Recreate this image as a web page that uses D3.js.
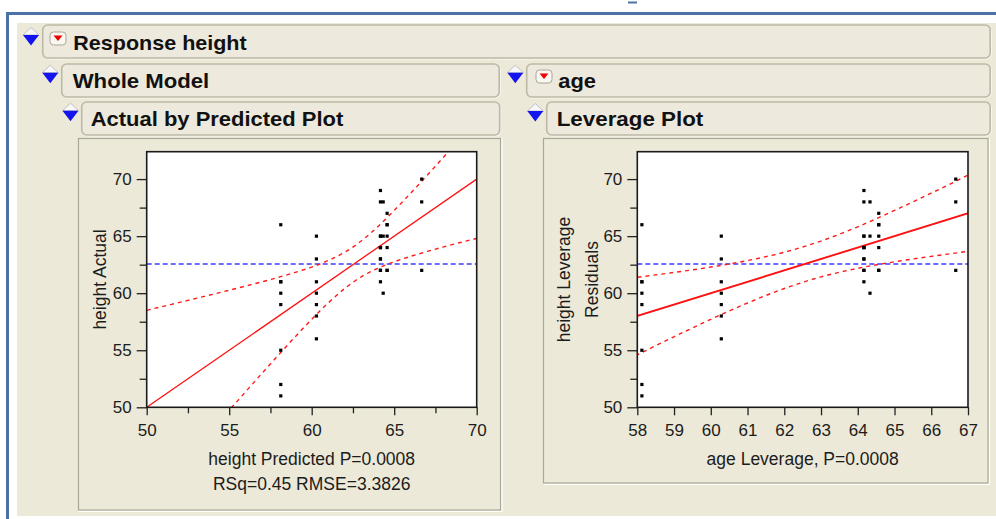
<!DOCTYPE html>
<html><head><meta charset="utf-8">
<script src="https://cdn.jsdelivr.net/npm/d3@7"></script>
<style>
html,body{margin:0;padding:0;background:#fff;}
svg{display:block;}
</style></head><body>
<svg id="c" width="996" height="519"></svg>
<script>
// ---------------- data ----------------
const ageGroups = ["12", "13", "14", "15", "16", "17"];
const groupPredicted = [58.125, 60.286, 64.167, 64.571, 64.333, 66.667];
const heights12 = [59, 61, 55, 66, 52, 60, 61, 51];
const heights13 = [60, 61, 56, 65, 63, 58, 59];
const heights14 = [61, 62, 65, 63, 62, 63, 64, 65, 64, 68, 64, 69];
const heights15 = [62, 66, 62, 66, 64, 67, 65];
const heights16 = [68, 60, 65];
const heights17 = [62, 68, 70];
const heightMean = 62.55;
// confidence curves
const bandX =     [50, 51, 52, 53, 54, 55, 56, 57, 58, 59, 60, 61, 62, 63, 64, 65, 66, 67, 68, 69, 70];
const bandUpper = [58.50, 58.85, 59.19, 59.55, 59.90, 60.26, 60.63, 61.00, 61.40, 61.82, 62.29, 62.86, 63.59, 64.57, 65.82, 67.25, 68.77, 70.34, 71.94, 73.56, 75.20];
const bandLower = [41.50, 43.15, 44.81, 46.45, 48.10, 49.74, 51.37, 53.00, 54.60, 56.18, 57.71, 59.14, 60.41, 61.43, 62.18, 62.75, 63.23, 63.66, 64.06, 64.44, 64.80];
const fitX = [50, 70];
const yMajorTicks = [50, 55, 60, 65, 70];
const yMinorTicks = [52.5, 57.5, 62.5, 67.5];
const leftXMajorTicks = [50, 55, 60, 65, 70];
const leftXMinorTicks = [52.5, 57.5, 62.5, 67.5];
const rightXMajorTicks = [58, 59, 60, 61, 62, 63, 64, 65, 66, 67];
const leftXTitle = "height Predicted P=0.0008";
const leftXSub = "RSq=0.45 RMSE=3.3826";
const leftYTitle = "height Actual";
const rightXTitle = "age Leverage, P=0.0008";
const rightYTitle = ["height Leverage", "Residuals"];

const heightGroups = [heights12, heights13, heights14, heights15, heights16, heights17];
const points = heightGroups.flatMap((hs, i) => hs.map(h => ({age: ageGroups[i], x: groupPredicted[i], y: h})));

// ---------------- page chrome ----------------
const svg = d3.select("#c");
const FONT = "'Liberation Sans', Arial, sans-serif";
const BEIGE = "#ece9d8";

svg.append("rect").attr("width", 996).attr("height", 519).attr("fill", "#fff");
svg.append("rect").attr("x", 17).attr("y", 23).attr("width", 979).attr("height", 493).attr("fill", BEIGE);
svg.append("line").attr("x1", 6).attr("x2", 996).attr("y1", 13.5).attr("y2", 13.5).attr("stroke", "#4a72a6").attr("stroke-width", 3);
svg.append("line").attr("x1", 7.5).attr("x2", 7.5).attr("y1", 12).attr("y2", 519).attr("stroke", "#4a72a6").attr("stroke-width", 3);
svg.append("line").attr("x1", 628).attr("x2", 637).attr("y1", 2.5).attr("y2", 2.5).attr("stroke", "#4a72a6").attr("stroke-width", 2);

function headerBox(x, y, w, h) {
  svg.append("rect").attr("x", x + 1).attr("y", y + 1).attr("width", w).attr("height", h).attr("rx", 5)
    .attr("fill", "none").attr("stroke", "#fbfaf6").attr("stroke-width", 1);
  svg.append("rect").attr("x", x).attr("y", y).attr("width", w).attr("height", h).attr("rx", 5)
    .attr("fill", "#ede9dc").attr("stroke", "#bdb9a7").attr("stroke-width", 1.6);
}
function headerText(x, baseline, len, label) {
  svg.append("text").attr("x", x).attr("y", baseline).attr("font-family", FONT)
    .attr("font-weight", "bold").attr("font-size", 21).attr("fill", "#111")
    .attr("textLength", len).attr("lengthAdjust", "spacingAndGlyphs").text(label);
}
function disclosure(cx, split) {
  svg.append("path").attr("d", `M${cx - 8},${split} L${cx + 8},${split} L${cx},${split - 7.5} Z`)
    .attr("fill", "#f7f7f7").attr("stroke", "#b4b4bc").attr("stroke-width", 0.8);
  svg.append("path").attr("d", `M${cx - 8},${split} L${cx + 8},${split} L${cx},${split + 10.5} Z`)
    .attr("fill", "#1414ee");
}
function menuIcon(x, y) {
  svg.append("rect").attr("x", x).attr("y", y).attr("width", 16).attr("height", 13).attr("rx", 3.5)
    .attr("fill", "#f8f7f2").attr("stroke", "#aaa696").attr("stroke-width", 1);
  svg.append("path").attr("d", `M${x + 3.5},${y + 3.5} L${x + 12.5},${y + 3.5} L${x + 8},${y + 9} Z`).attr("fill", "#ee0000");
}

headerBox(42.7, 25, 947.5, 33);
disclosure(31, 35);
menuIcon(50, 32);
headerText(73.3, 49.5, 173.4, "Response height");

headerBox(61.7, 64, 437.5, 33);
disclosure(50.3, 72.7);
headerText(72.7, 87.5, 136.6, "Whole Model");

headerBox(526.7, 64, 463.5, 33);
disclosure(515.3, 72.7);
menuIcon(536, 70);
headerText(558.3, 87.5, 37.7, "age");

headerBox(81.7, 102, 418, 33);
disclosure(70.5, 110.7);
headerText(90.7, 125.5, 252.6, "Actual by Predicted Plot");

headerBox(546.7, 102, 443.5, 33);
disclosure(535.3, 111);
headerText(556.7, 125.5, 146.6, "Leverage Plot");

function panel(x0, y0, x1, y1) {
  svg.append("path").attr("d", `M${x1 + 1.5},${y0} V${y1 + 1.5} H${x0}`).attr("fill", "none").attr("stroke", "#fff").attr("stroke-width", 1.2);
  svg.append("rect").attr("x", x0).attr("y", y0).attr("width", x1 - x0).attr("height", y1 - y0)
    .attr("fill", "none").attr("stroke", "#aca899").attr("stroke-width", 1.2);
}
panel(78.5, 138.5, 500.5, 510);
panel(543.5, 138.5, 988, 483);

// ---------------- plots ----------------
function drawPlot(opt) {
  const {x0, x1, y0, y1, xDomain, xMajor, xMinor, id} = opt;
  const x = d3.scaleLinear().domain(xDomain).range([x0, x1]);
  const y = d3.scaleLinear().domain([50, 72.4]).range([y1, y0]);
  const g = svg.append("g");
  g.append("clipPath").attr("id", id).append("rect").attr("x", x0).attr("y", y0).attr("width", x1 - x0).attr("height", y1 - y0);
  g.append("rect").attr("x", x0).attr("y", y0).attr("width", x1 - x0).attr("height", y1 - y0).attr("fill", "#fff");

  const styleAxis = s => {
    s.select(".domain").remove();
    s.attr("font-family", FONT).attr("font-size", 17);
    s.selectAll("line").attr("stroke", "#222").attr("stroke-width", 1.3);
    s.selectAll("text").attr("fill", "#1c1c1c");
  };
  g.append("g").attr("transform", `translate(${x0},0)`)
    .call(d3.axisLeft(y).tickValues(yMajorTicks).tickSize(10).tickPadding(5).tickFormat(d3.format("d"))).call(styleAxis);
  g.append("g").attr("transform", `translate(${x0},0)`)
    .call(d3.axisLeft(y).tickValues(yMinorTicks).tickSize(7).tickFormat("")).call(styleAxis);
  g.append("g").attr("transform", `translate(0,${y1})`)
    .call(d3.axisBottom(x).tickValues(xMajor).tickSize(8).tickPadding(9).tickFormat(d3.format("d"))).call(styleAxis);
  if (xMinor.length) {
    g.append("g").attr("transform", `translate(0,${y1})`)
      .call(d3.axisBottom(x).tickValues(xMinor).tickSize(6).tickFormat("")).call(styleAxis);
  }

  const c = g.append("g").attr("clip-path", `url(#${id})`);
  // mean line
  c.append("line").attr("x1", x0).attr("x2", x1).attr("y1", y(heightMean)).attr("y2", y(heightMean))
    .attr("stroke", "#3b3bff").attr("stroke-width", 1.5).attr("stroke-dasharray", "5,3");
  // confidence curves
  const bandLine = vals => d3.line().x((d, i) => x(bandX[i])).y(d => y(d)).curve(d3.curveMonotoneX)(vals);
  [bandUpper, bandLower].forEach(vals => {
    c.append("path").attr("d", bandLine(vals)).attr("fill", "none")
      .attr("stroke", "#ff1a1a").attr("stroke-width", 1.4).attr("stroke-dasharray", "4,4");
  });
  // fit line (actual = predicted)
  c.append("path").attr("d", d3.line().x(d => x(d)).y(d => y(d))(fitX)).attr("fill", "none")
    .attr("stroke", "#ff1010").attr("stroke-width", opt.fitWidth);
  // points
  c.selectAll("rect.pt").data(points).join("rect").attr("class", "pt")
    .attr("x", d => x(d.x) - 1.6).attr("y", d => y(d.y) - 1.6).attr("width", 3.2).attr("height", 3.2).attr("fill", "#000");

  g.append("rect").attr("x", x0).attr("y", y0).attr("width", x1 - x0).attr("height", y1 - y0)
    .attr("fill", "none").attr("stroke", "#1a1a1a").attr("stroke-width", 1.6);
  return {x, y};
}

drawPlot({id: "clipL", x0: 146.7, x1: 476.7, y0: 151.7, y1: 407.3, xDomain: [50, 70],
  xMajor: leftXMajorTicks, xMinor: leftXMinorTicks, fitWidth: 1.3});
drawPlot({id: "clipR", x0: 637.3, x1: 968, y0: 151.7, y1: 407.3, xDomain: [58, 67],
  xMajor: rightXMajorTicks, xMinor: [], fitWidth: 1.9});

function label(x, y, t, rot) {
  const el = svg.append("text").attr("font-family", FONT).attr("font-size", 17.5).attr("fill", "#1c1c1c")
    .attr("text-anchor", "middle").text(t);
  if (rot) el.attr("transform", `translate(${x},${y}) rotate(-90)`);
  else el.attr("x", x).attr("y", y);
}
label(311.7, 465, leftXTitle);
label(311.7, 490, leftXSub);
label(105.5, 279.5, leftYTitle, true);
label(802.7, 465, rightXTitle);
label(570, 279.5, rightYTitle[0], true);
label(597.5, 279.5, rightYTitle[1], true);
</script>
</body></html>
